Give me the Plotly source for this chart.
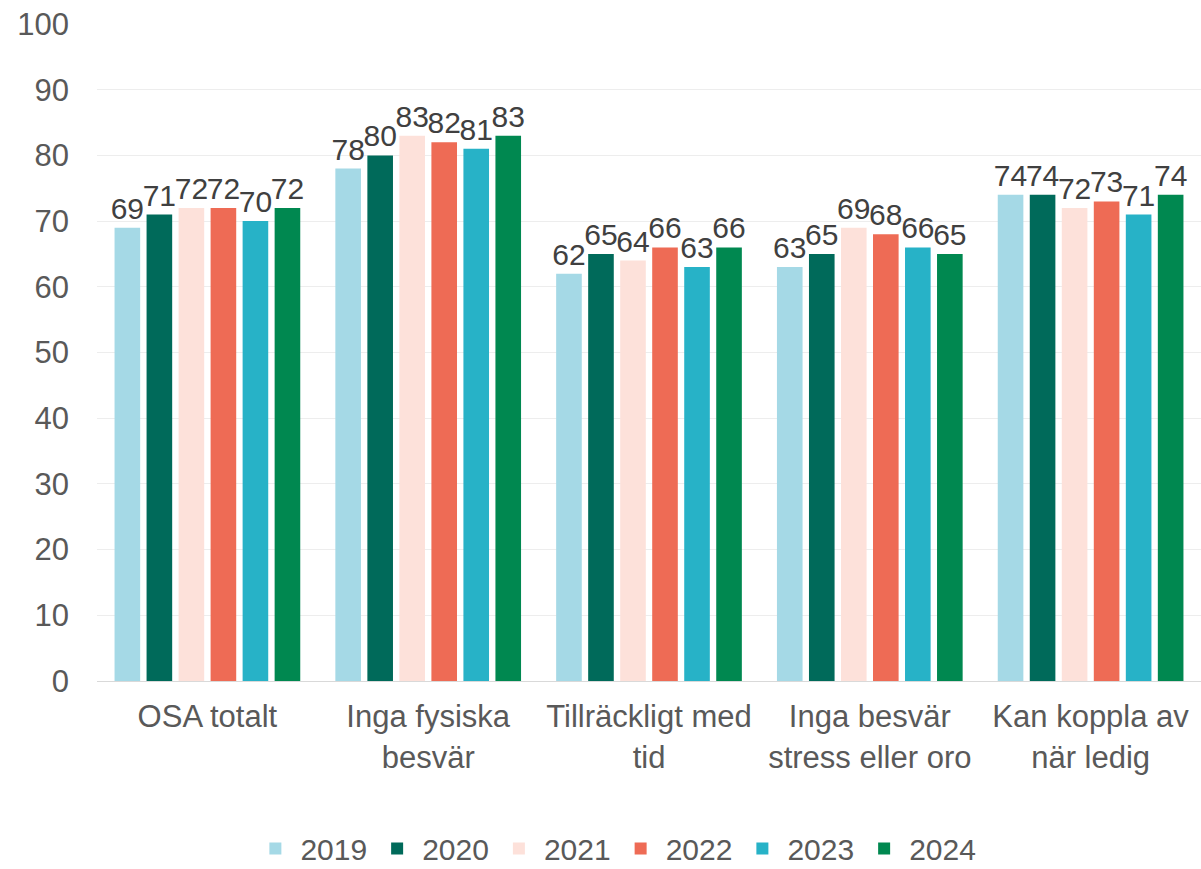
import plotly.graph_objects as go

categories = ["OSA totalt", "Inga fysiska<br>besvär", "Tillräckligt med<br>tid",
              "Inga besvär<br>stress eller oro", "Kan koppla av<br>när ledig"]
years = ["2019", "2020", "2021", "2022", "2023", "2024"]
values = {
    "2019": [69, 78, 62, 63, 74],
    "2020": [71, 80, 65, 65, 74],
    "2021": [72, 83, 64, 69, 72],
    "2022": [72, 82, 66, 68, 73],
    "2023": [70, 81, 63, 66, 71],
    "2024": [72, 83, 66, 65, 74],
}
colors = ["#A5D9E6", "#006A5A", "#FDE1DA", "#EE6B55", "#27B2C7", "#008850"]

fig = go.Figure()
for year, color in zip(years, colors):
    fig.add_trace(go.Bar(
        x=categories, y=values[year], name=year,
        marker=dict(color=color, line=dict(width=0)),
        text=values[year], textposition="outside", cliponaxis=False,
        constraintext="none",
        textfont=dict(size=30, color="#404040"),
    ))

fig.update_layout(
    width=1201, height=869,
    barmode="group", bargap=0.13, bargroupgap=0.2,
    plot_bgcolor="white", paper_bgcolor="white",
    font=dict(family="Liberation Sans, Arial, sans-serif", size=31, color="#595959"),
    margin=dict(l=97, r=0, t=24, b=188, autoexpand=False),
    uniformtext=dict(mode=False),
    legend=dict(orientation="h", x=0.47, xanchor="center", y=-0.255, yanchor="middle",
                font=dict(size=30, color="#595959"), itemwidth=40, traceorder="normal"),
    xaxis=dict(showline=True, linecolor="#D9D9D9", linewidth=1, ticks="",
               automargin=False, ticklabelstandoff=8,
               tickfont=dict(size=31, color="#595959")),
    yaxis=dict(range=[0, 100], dtick=10, showgrid=True, gridcolor="#EDEDED",
               zeroline=False, ticks="", automargin=False, ticklabelstandoff=27,
               tickfont=dict(size=31, color="#595959")),
)

# drop the browser's default body margin so the figure fills the window
fig.write_html("out.html", config={"displayModeBar": False},
               post_script="document.body.style.margin='0';")
